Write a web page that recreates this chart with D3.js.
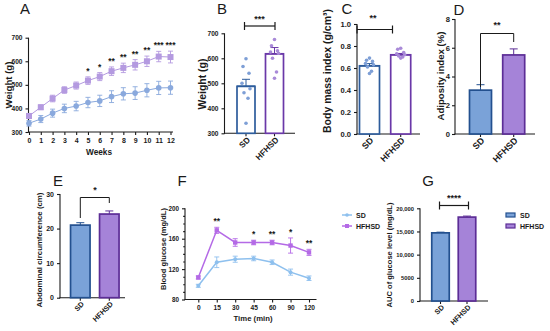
<!DOCTYPE html>
<html>
<head>
<meta charset="utf-8">
<script src="https://cdn.jsdelivr.net/npm/d3@7"></script>
<style>
  body { margin: 0; background: #fff; }
  svg text { font-family: "Liberation Sans", Arial, sans-serif; fill: #1a1a1a; }
</style>
</head>
<body>
<svg id="fig" width="550" height="331"></svg>
<script>
// ---- data ----
var groups = ["SD", "HFHSD"];

var weeks = [0, 1, 2, 3, 4, 5, 6, 7, 8, 9, 10, 11, 12];
var weightSD = [337, 355, 380, 400, 410, 425, 432, 450, 462, 465, 477, 487, 488];
var weightSDErr = [12, 15, 17, 18, 20, 22, 24, 25, 26, 27, 28, 28, 28];
var weightHF = [368, 405, 442, 478, 497, 518, 535, 558, 572, 585, 600, 620, 618];
var weightHFErr = [10, 10, 14, 14, 15, 16, 17, 18, 20, 22, 22, 22, 25];
var weekStars = ["", "", "", "", "", "*", "*", "**", "**", "**", "**", "***", "***"];

var finalWeightSD = [598, 567, 540, 500, 478, 462, 440, 340];
var finalWeightHF = [675, 650, 630, 625, 620, 600, 545, 520];
var finalWeightMean = [488, 618];
var finalWeightErr = [28, 25];

var bmiSD = [0.69, 0.67, 0.66, 0.64, 0.63, 0.61, 0.57, 0.55];
var bmiHF = [0.78, 0.77, 0.74, 0.73, 0.72, 0.71, 0.70, 0.69];
var bmiMean = [0.62, 0.72];
var bmiErr = [0.02, 0.012];

var adiposityMean = [3.05, 5.5];
var adiposityErr = [0.38, 0.42];

var abdomenMean = [21.0, 24.2];
var abdomenErr = [0.7, 0.9];

var times = [0, 15, 30, 45, 60, 90, 120];
var glucoseSD = [98, 129, 133, 134, 129, 116, 108];
var glucoseSDErr = [2, 7, 4, 3, 3, 4, 3];
var glucoseHF = [109, 171, 155, 155, 155, 151, 142];
var glucoseHFErr = [2, 4, 5, 3, 3, 10, 4];
var timeStars = ["", "**", "", "*", "**", "*", "**"];

var aucMean = [14700, 18100];
var aucErr = [150, 220];

// ---- styling ----
var ink = "#1a1a1a";
var sdLight = "#8aa9dd", hfLight = "#b49ae0";
var sdFill = "#7aa2d8", sdEdge = "#23508f";
var hfFill = "#a583d8", hfEdge = "#5c2d96";
var sdOpen = "#2d5c9c", hfOpen = "#6a38a8";
var sdDot = "#7e9fd6", hfDot = "#a98ad8";
var fSD = "#8ec0ee", fHF = "#b46ae6";

var svg = d3.select("#fig");

function letter(t, x, y) {
    svg.append("text").attr("x", x).attr("y", y).attr("text-anchor", "middle")
        .attr("dominant-baseline", "central").style("font-size", "15px").text(t);
}

// axis titles are sized to the length they have in the figure
function fitText(sel, len) {
    sel.style("font-size", "8px");
    var w = sel.node().getComputedTextLength();
    sel.style("font-size", (8 * len / w).toFixed(2) + "px");
}

function yTitle(t, x, y, len) {
    var s = svg.append("text").attr("transform", "translate(" + x + "," + y + ")rotate(-90)")
        .attr("text-anchor", "middle").attr("dominant-baseline", "central")
        .style("font-weight", "bold").text(t);
    fitText(s, len);
}

function xTitle(t, x, y, len) {
    var s = svg.append("text").attr("x", x).attr("y", y).attr("text-anchor", "middle")
        .attr("dominant-baseline", "central").style("font-weight", "bold").text(t);
    fitText(s, len);
}

function line(g, x1, y1, x2, y2, color, w) {
    g.append("line").attr("x1", x1).attr("y1", y1).attr("x2", x2).attr("y2", y2)
        .attr("stroke", color || ink).attr("stroke-width", w || 1.1);
}

function styleAxis(fs) {
    return function (sel) {
        sel.select(".domain").remove();
        sel.selectAll(".tick line").attr("stroke", ink).attr("stroke-width", 1.1);
        sel.selectAll(".tick text").style("font-size", fs + "px").style("font-weight", "bold")
            .attr("fill", ink);
    };
}

function errBar(g, x, yLo, yHi, color, cap, w) {
    line(g, x, yLo, x, yHi, color, w || 1);
    line(g, x - cap, yHi, x + cap, yHi, color, w || 1);
    line(g, x - cap, yLo, x + cap, yLo, color, w || 1);
}

function stars(g, t, x, y, size) {
    g.append("text").attr("x", x).attr("y", y).attr("text-anchor", "middle")
        .attr("dominant-baseline", "central").style("font-size", (size || 9) + "px")
        .style("font-weight", "bold").text(t);
}

// generic two-group bar panel
function barPanel(o) {
    var g = svg.append("g");
    var y = d3.scaleLinear().domain(o.domain).range([o.bottom, o.top]);
    var x = d3.scalePoint().domain(groups).range(o.centers);

    g.append("g").attr("transform", "translate(" + o.left + ",0)")
        .call(d3.axisLeft(y).tickValues(o.ticks).tickSize(3).tickPadding(o.pad || 3).tickFormat(o.fmt))
        .call(styleAxis(o.tickFs));
    line(g, o.left, y(o.domain[1]), o.left, o.bottom + 0.5);
    line(g, o.left - 0.5, o.bottom, o.right, o.bottom);

    groups.forEach(function (k, i) {
        var cx = x(k);
        line(g, cx, o.bottom, cx, o.bottom + 3);
        g.append("text")
            .attr("transform", "translate(" + (cx + 2.5) + "," + (o.bottom + 5) + ")rotate(-45)")
            .attr("text-anchor", "end").attr("dominant-baseline", "central")
            .style("font-size", o.catFs + "px").style("font-weight", "bold").text(k);

        var top = y(o.means[i]);
        if (o.open) {
            errBar(g, cx, y(o.means[i] - o.errs[i]), y(o.means[i] + o.errs[i]), o.edges[i], 4, 1);
        } else {
            var ey = y(o.means[i] + o.errs[i]);
            line(g, cx, top, cx, ey, o.edges[i], 1);
            line(g, cx - 4, ey, cx + 4, ey, o.edges[i], 1);
        }
        g.append("rect").attr("x", cx - o.bw / 2).attr("y", top)
            .attr("width", o.bw).attr("height", o.bottom - top)
            .attr("fill", o.fills[i]).attr("stroke", o.edges[i]).attr("stroke-width", 1.7);
        if (o.open) line(g, cx - o.bw / 2, top, cx + o.bw / 2, top, o.edges[i], 1.6);

        if (o.points) {
            var jit = [0, -3, 3, -4, 4, -2, 2, 0];
            o.points[i].forEach(function (v, j) {
                g.append("circle").attr("cx", cx + jit[j]).attr("cy", y(v)).attr("r", 1.8)
                    .attr("fill", o.dots[i]);
            });
        }
    });

    var b = o.bracket;
    if (b.kind === "bar") {
        line(g, b.x1, b.y, b.x2, b.y, ink, 1.2);
        line(g, b.x1, b.y - 4, b.x1, b.y + 4, ink, 1.2);
        line(g, b.x2, b.y - 4, b.x2, b.y + 4, ink, 1.2);
    } else {
        var x1 = x(groups[0]), x2 = x(groups[1]);
        g.append("path")
            .attr("d", "M" + x1 + "," + b.l + "V" + b.y + "H" + x2 + "V" + b.r)
            .attr("fill", "none").attr("stroke", ink).attr("stroke-width", 1);
    }
    stars(g, b.t, b.tx, b.ty, 9);
    return g;
}

// ---- A: weight over time ----
(function () {
    var g = svg.append("g");
    var x = d3.scaleLinear().domain([0, 12]).range([29, 170.5]);
    var y = d3.scaleLinear().domain([300, 700]).range([132, 37.7]);
    g.append("g").attr("transform", "translate(28.5,0)")
        .call(d3.axisLeft(y).tickValues([300, 400, 500, 600, 700]).tickSize(3)).call(styleAxis(6.6));
    g.append("g").attr("transform", "translate(0,132)")
        .call(d3.axisBottom(x).tickValues(weeks).tickSize(3)).call(styleAxis(7));
    line(g, 28.5, 37.7, 28.5, 132.5);
    line(g, 28, 132, 173, 132);

    var ln = d3.line().x(function (d, i) { return x(weeks[i]); }).y(function (d) { return y(d); });
    g.append("path").datum(weightSD).attr("d", ln).attr("fill", "none")
        .attr("stroke", sdLight).attr("stroke-width", 1);
    g.append("path").datum(weightHF).attr("d", ln).attr("fill", "none")
        .attr("stroke", hfLight).attr("stroke-width", 1);

    weeks.forEach(function (w, i) {
        var cx = x(w);
        errBar(g, cx, y(weightSD[i] - weightSDErr[i]), y(weightSD[i] + weightSDErr[i]), sdLight, 2.5, 0.9);
        errBar(g, cx, y(weightHF[i] - weightHFErr[i]), y(weightHF[i] + weightHFErr[i]), hfLight, 2.5, 0.9);
        g.append("circle").attr("cx", cx).attr("cy", y(weightSD[i])).attr("r", 2.8).attr("fill", sdLight);
        g.append("rect").attr("x", cx - 3).attr("y", y(weightHF[i]) - 3).attr("width", 6).attr("height", 6)
            .attr("fill", hfLight);
        if (weekStars[i]) stars(g, weekStars[i], cx, y(weightHF[i] + weightHFErr[i]) - 6, 8.5);
    });

    xTitle("Weeks", 99, 152, 26);
    yTitle("Weight (g)", 8, 85, 47);
    letter("A", 25, 8);
})();

// ---- B: final weight ----
barPanel({
    left: 224.5, right: 295, top: 33.3, bottom: 133.3,
    domain: [300, 700], ticks: [300, 400, 500, 600, 700], fmt: d3.format("d"),
    centers: [246, 274.5], bw: 18, means: finalWeightMean, errs: finalWeightErr,
    fills: ["#fff", "#fff"], edges: [sdOpen, hfOpen], open: true,
    points: [finalWeightSD, finalWeightHF], dots: [sdDot, hfDot],
    tickFs: 6.6, catFs: 8.3,
    bracket: { kind: "bar", x1: 244.5, x2: 275, y: 26, t: "***", tx: 259.5, ty: 19 }
});
yTitle("Weight (g)", 202, 84, 51);
letter("B", 222, 8);

// ---- C: BMI ----
barPanel({
    left: 357, right: 420, top: 24, bottom: 134,
    domain: [0, 1], ticks: [0, 0.2, 0.4, 0.6, 0.8, 1.0], fmt: d3.format(".1f"),
    centers: [369.5, 400.7], bw: 20, means: bmiMean, errs: bmiErr,
    fills: ["#fff", "#fff"], edges: [sdOpen, hfOpen], open: true,
    points: [bmiSD, bmiHF], dots: [sdDot, hfDot],
    tickFs: 7.6, catFs: 8.8,
    bracket: { kind: "bar", x1: 357, x2: 392.5, y: 29.5, t: "**", tx: 373, ty: 18 }
});
yTitle("Body mass index (g/cm\u00b3)", 327, 71, 124);
letter("C", 347, 8);

// ---- D: adiposity ----
barPanel({
    left: 455, right: 535, top: 19, bottom: 134,
    domain: [0, 8], ticks: [0, 2, 4, 6, 8], fmt: d3.format("d"),
    centers: [480.5, 513.7], bw: 22, means: adiposityMean, errs: adiposityErr,
    fills: [sdFill, hfFill], edges: [sdEdge, hfEdge], open: false,
    tickFs: 7.6, catFs: 9, pad: 2,
    bracket: { kind: "leg", y: 33.5, l: 87, r: 42, t: "**", tx: 497, ty: 25 }
});
yTitle("Adiposity index (%)", 440, 76, 89);
letter("D", 459, 9);

// ---- E: abdominal circumference ----
barPanel({
    left: 60, right: 125, top: 194, bottom: 297.7,
    domain: [0, 30], ticks: [0, 10, 20, 30], fmt: d3.format("d"),
    centers: [80.3, 109.3], bw: 19.5, means: abdomenMean, errs: abdomenErr,
    fills: [sdFill, hfFill], edges: [sdEdge, hfEdge], open: false,
    tickFs: 7, catFs: 7.3,
    bracket: { kind: "leg", y: 197.5, l: 218, r: 203, t: "*", tx: 95, ty: 190 }
});
yTitle("Abdominal circumference (cm)", 39, 250, 115);
letter("E", 58, 180);

// ---- F: glucose tolerance ----
(function () {
    var g = svg.append("g");
    var x = d3.scalePoint().domain(times).range([198.3, 309]);
    var y = d3.scaleLinear().domain([80, 200]).range([299.5, 208.3]);
    g.append("g").attr("transform", "translate(185,0)")
        .call(d3.axisLeft(y).tickValues([80, 120, 160, 200]).tickSize(3)).call(styleAxis(6.3));
    g.append("g").attr("transform", "translate(185,0)")
        .call(d3.axisLeft(y).tickValues([90, 100, 110, 130, 140, 150, 170, 180, 190]).tickSize(1.8).tickFormat(""))
        .call(styleAxis(6));
    g.append("g").attr("transform", "translate(0,299.5)")
        .call(d3.axisBottom(x).tickSize(3)).call(styleAxis(6.6));
    line(g, 185, 208.3, 185, 300);
    line(g, 184.5, 299.5, 316.5, 299.5);

    var ln = d3.line().x(function (d, i) { return x(times[i]); }).y(function (d) { return y(d); });
    g.append("path").datum(glucoseSD).attr("d", ln).attr("fill", "none")
        .attr("stroke", fSD).attr("stroke-width", 1.5);
    g.append("path").datum(glucoseHF).attr("d", ln).attr("fill", "none")
        .attr("stroke", fHF).attr("stroke-width", 1.5);

    times.forEach(function (t, i) {
        var cx = x(t);
        errBar(g, cx, y(glucoseSD[i] - glucoseSDErr[i]), y(glucoseSD[i] + glucoseSDErr[i]), fSD, 2.5, 0.9);
        errBar(g, cx, y(glucoseHF[i] - glucoseHFErr[i]), y(glucoseHF[i] + glucoseHFErr[i]), fHF, 2.5, 0.9);
        g.append("circle").attr("cx", cx).attr("cy", y(glucoseSD[i])).attr("r", 2).attr("fill", fSD);
        g.append("rect").attr("x", cx - 2.2).attr("y", y(glucoseHF[i]) - 2.2).attr("width", 4.4)
            .attr("height", 4.4).attr("fill", fHF);
        if (timeStars[i]) stars(g, timeStars[i], cx, y(glucoseHF[i] + glucoseHFErr[i]) - 6, 8.5);
    });

    xTitle("Time (min)", 253, 318, 39);
    yTitle("Blood glucose (mg/dL)", 163, 249, 82);
    letter("F", 182, 180);

    // legend
    [[groups[0], fSD, "c"], [groups[1], fHF, "s"]].forEach(function (d, i) {
        var ly = 215 + i * 11;
        line(g, 342, ly, 352, ly, d[1], 1.5);
        if (d[2] === "c") g.append("circle").attr("cx", 347).attr("cy", ly).attr("r", 1.8).attr("fill", d[1]);
        else g.append("rect").attr("x", 345).attr("y", ly - 2).attr("width", 4).attr("height", 4).attr("fill", d[1]);
        g.append("text").attr("x", 356).attr("y", ly).attr("dominant-baseline", "central")
            .style("font-size", "7px").style("font-weight", "bold").text(d[0]);
    });
})();

// ---- G: AUC ----
barPanel({
    left: 420, right: 488, top: 208.3, bottom: 301,
    domain: [0, 20000], ticks: [0, 5000, 10000, 15000, 20000],
    fmt: function (d) { return d >= 10000 ? d3.format(",")(d) : String(d); },
    centers: [440.5, 467], bw: 17.5, means: aucMean, errs: aucErr,
    fills: [sdFill, hfFill], edges: [sdEdge, hfEdge], open: false,
    tickFs: 5.8, catFs: 7.3,
    bracket: { kind: "bar", x1: 439.5, x2: 468.5, y: 205.5, t: "****", tx: 454, ty: 197.5 }
});
yTitle("AUC of glucose level (mg/dL)", 389, 255, 105);
letter("G", 428, 180);

// legend G
[[groups[0], sdFill, sdEdge], [groups[1], hfFill, hfEdge]].forEach(function (d, i) {
    var ly = 215 + i * 11;
    svg.append("rect").attr("x", 506).attr("y", ly - 2).attr("width", 9).attr("height", 4)
        .attr("fill", d[1]).attr("stroke", d[2]).attr("stroke-width", 1.2);
    svg.append("text").attr("x", 520).attr("y", ly).attr("dominant-baseline", "central")
        .style("font-size", "7px").style("font-weight", "bold").text(d[0]);
});
</script>
</body>
</html>
